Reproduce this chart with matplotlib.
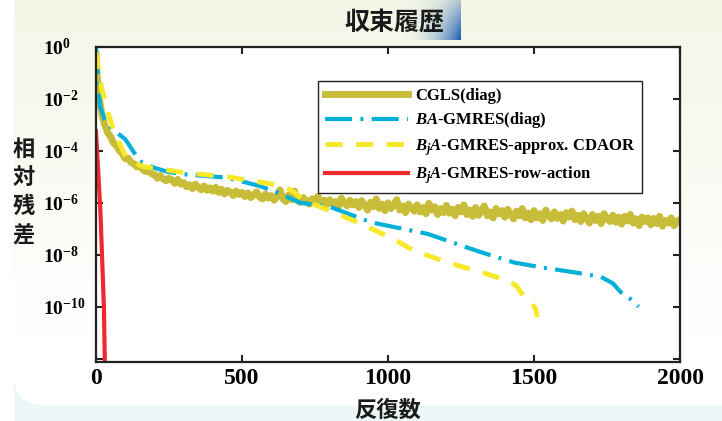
import numpy as np
import matplotlib
matplotlib.use('Agg')
import matplotlib.pyplot as plt
from matplotlib.patches import FancyBboxPatch, Rectangle
from matplotlib.ticker import NullLocator

# Data (iterations, log10 of relative residual);
cgls_head_iter = [0, 5, 10, 20, 30, 40, 50, 60, 70, 80, 90, 100, 110, 120, 130, 140, 150, 160, 170, 180, 190]
cgls_head_log = [-0.3, -1.3, -1.9, -2.6, -3.0, -3.3, -3.45, -3.7, -3.8, -4.0, -4.1, -4.3, -4.28, -4.45,
                 -4.5, -4.62, -4.58, -4.72, -4.8, -4.75, -4.88]
cgls_tail_iter = list(range(200, 2001, 10))
cgls_tail_log = [
    -4.90, -5.05, -4.95, -5.08, -5.15, -5.05, -5.12, -5.25, -5.10, -5.28,
    -5.22, -5.38, -5.30, -5.45, -5.28, -5.40, -5.50, -5.35, -5.52, -5.42,
    -5.55, -5.40, -5.60, -5.48, -5.66, -5.52, -5.58, -5.72, -5.55, -5.68,
    -5.60, -5.76, -5.62, -5.80, -5.70, -5.58, -5.78, -5.85, -5.66, -5.82,
    -5.72, -5.90, -5.75, -5.50, -5.85, -5.95, -5.70, -5.88, -5.55, -5.92,
    -5.98, -5.80, -5.92, -6.05, -5.85, -5.98, -5.75, -6.02, -5.90, -6.08,
    -5.88, -6.05, -5.95, -6.15, -5.82, -6.00, -6.12, -5.90, -6.08, -5.95,
    -6.18, -5.92, -6.10, -6.28, -5.98, -6.15, -5.85, -6.22, -6.05, -6.30,
    -6.00, -6.22, -6.08, -5.88, -6.28, -6.12, -6.38, -6.05, -6.20, -6.32,
    -6.08, -6.35, -6.18, -6.42, -6.02, -6.28, -6.15, -6.45, -6.22, -6.38,
    -6.10, -6.40, -6.25, -6.50, -6.18, -6.35, -6.08, -6.45, -6.28, -6.52,
    -6.18, -6.48, -6.30, -6.12, -6.50, -6.35, -6.58, -6.22, -6.42, -6.30,
    -6.55, -6.25, -6.45, -6.62, -6.32, -6.50, -6.22, -6.58, -6.40, -6.65,
    -6.30, -6.58, -6.42, -6.68, -6.28, -6.50, -6.62, -6.35, -6.60, -6.45,
    -6.70, -6.38, -6.55, -6.32, -6.65, -6.48, -6.72, -6.42, -6.60, -6.78,
    -6.45, -6.68, -6.52, -6.80, -6.42, -6.62, -6.72, -6.48, -6.75, -6.55,
    -6.82, -6.52, -6.70, -6.45, -6.78, -6.62, -6.88, -6.55, -6.72, -6.58,
    -6.85, -6.60, -6.80, -6.52, -6.90, -6.68, -6.78, -6.58, -6.88, -6.70,
    -6.65,
]
ba_iter = [0, 5, 14, 30, 60, 100, 150, 200, 243, 300, 448, 560, 620, 700, 800,
           942, 1050, 1137, 1226, 1318, 1432, 1534, 1651, 1729, 1770, 1798, 1830, 1858]
ba_log = [0.0, -0.9, -2.3, -2.8, -3.2, -3.55, -4.4, -4.65, -4.8, -4.9, -5.03, -5.35, -5.6, -6.0, -6.15,
          -6.75, -7.0, -7.2, -7.55, -7.9, -8.3, -8.5, -8.7, -8.85, -9.1, -9.45, -9.7, -10.0]
bj_iter = [0, 10, 20, 40, 58, 80, 105, 160, 310, 450, 560, 640, 680, 710, 800,
           907, 1020, 1090, 1205, 1328, 1410, 1440, 1465, 1490, 1506, 1512]
bj_log = [-0.2, -1.0, -1.6, -2.5, -3.1, -3.7, -4.3, -4.6, -4.85, -5.0, -5.2, -5.35, -5.6, -5.9, -6.3,
          -6.8, -7.4, -7.85, -8.3, -8.7, -9.0, -9.2, -9.6, -9.8, -10.1, -10.4]
row_iter = [0, 15, 27, 31]
row_log = [-3.25, -6.3, -10.0, -12.6]

labels = ['CGLS(diag)', r'$BA$-GMRES(diag)', r'$B_jA$-GMRES-approx. CDAOR', r'$B_jA$-GMRES-row-action']
x_ticks = [0, 500, 1000, 1500, 2000]
y_exps = [0, -2, -4, -6, -8, -10, -12]

plt.rcParams['font.family'] = ['Liberation Serif', 'DejaVu Serif']
plt.rcParams['font.weight'] = 'bold'
plt.rcParams['mathtext.fontset'] = 'custom'
plt.rcParams['mathtext.rm'] = 'Liberation Serif:bold'
plt.rcParams['mathtext.bf'] = 'Liberation Serif:bold'
plt.rcParams['mathtext.it'] = 'Liberation Serif:italic:bold'
cjk = ['Noto Sans CJK JP', 'DejaVu Sans']

fig = plt.figure(figsize=(7.22, 4.21), dpi=100)
fig.patch.set_facecolor('#eef7f7')

# Background panel with a soft cream-to-white gradient;
bg = fig.add_axes([0, 0, 1, 1], zorder=-10)
t = np.clip(np.linspace(0, 1, 421) / 0.8, 0, 1)[:, None]
top = np.array([0.955, 0.965, 0.905])
rgb = top[None, None, :] * (1 - t[:, :, None]) + np.ones(3)[None, None, :] * t[:, :, None]
rgb = np.repeat(rgb, 2, axis=1)
img = bg.imshow(rgb, extent=(0, 722, 421, 0), aspect='auto')
panel = FancyBboxPatch((14, -40), 740, 445, boxstyle='round,pad=0,rounding_size=30',
                       transform=bg.transData, facecolor='none', edgecolor='none')
bg.add_patch(panel)
img.set_clip_path(panel)
bg.add_patch(Rectangle((0, 0), 14, 421, facecolor='white', edgecolor='none'))

# Blue fade behind the title;
gx, gy = np.meshgrid(np.linspace(0, 1, 80), np.linspace(0, 1, 60))
alpha = np.clip(gx ** 2.5 * (0.3 + 0.7 * gy), 0, 1)
blue = np.zeros((60, 80, 4))
blue[..., 0], blue[..., 1], blue[..., 2] = 0.10, 0.36, 0.68
blue[..., 3] = alpha
bg.imshow(blue, extent=(395, 461, 40, 0), aspect='auto')
bg.set_xlim(0, 722)
bg.set_ylim(421, 0)
bg.axis('off')

fig.text(394 / 722, 1 - 23 / 421, '収束履歴', family=cjk, fontsize=18, weight='bold',
         ha='center', va='center', color='#1a1a1a')

ax = fig.add_axes([96 / 722, 59 / 421, 584 / 722, 315 / 421])
ax.set_facecolor('white')

ax.plot(cgls_head_iter + cgls_tail_iter, 10.0 ** np.array(cgls_head_log + cgls_tail_log),
        color='#c8bd38', lw=5, solid_joinstyle='round', label=labels[0])
ax.plot(ba_iter, 10.0 ** np.array(ba_log), color='#00b0d8', lw=3,
        dashes=(6.5, 2, 0.7, 2), label=labels[1])
ax.plot(bj_iter, 10.0 ** np.array(bj_log), color='#f7e82a', lw=3.5,
        dashes=(3.5, 2.8), label=labels[2])
ax.plot(row_iter, 10.0 ** np.array(row_log), color='#ee2a30', lw=3, label=labels[3])

ax.set_yscale('log')
ax.set_xlim(0, 2000)
ax.set_ylim(10 ** -12.13, 1)
ax.set_xticks(x_ticks)
ax.set_xticklabels([str(v) for v in x_ticks], fontsize=17)
ax.set_yticks([10.0 ** e for e in y_exps])
ax.set_yticklabels([r'$\mathbf{10^{%d}}$' % e if e > -12 else '' for e in y_exps], fontsize=14)
ax.yaxis.set_minor_locator(NullLocator())
ax.tick_params(direction='in', top=True, right=True, length=5, width=1.5, color='#222222')
ax.tick_params(axis='x', pad=4)
ax.tick_params(axis='y', pad=38)
for lab in ax.get_yticklabels():
    lab.set_ha('left')
for sp in ax.spines.values():
    sp.set_linewidth(1.6)
    sp.set_color('#222222')

leg = ax.legend(loc='upper left', bbox_to_anchor=(0.380, 0.892), fontsize=12,
                handlelength=5.0, handletextpad=0.45, labelspacing=0.4, borderpad=0.4,
                fancybox=False, framealpha=1, edgecolor='#222222', borderaxespad=0)
leg.get_frame().set_linewidth(1.0)

fig.text(388 / 722, 1 - 410 / 421, '反復数', family=cjk, fontsize=16, weight='bold',
         ha='center', va='center', color='#1a1a1a')
fig.text(24 / 722, 1 - 192 / 421, '相\n対\n残\n差', family=cjk, fontsize=16, weight='bold',
         ha='center', va='center', linespacing=1.3, color='#1a1a1a')

fig.savefig('out.png', dpi=100, facecolor=fig.get_facecolor())
